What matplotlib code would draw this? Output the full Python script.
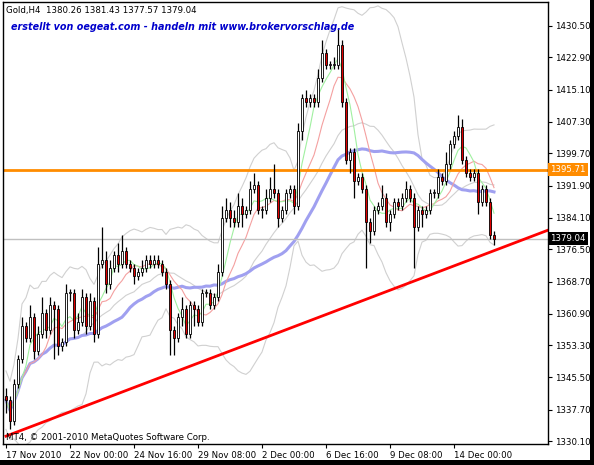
import numpy as np
import pandas as pd
import matplotlib
matplotlib.use('Agg')
import matplotlib.pyplot as plt
from matplotlib.patches import Rectangle

# Gold H4 closes (one per bar, 17 Nov - 15 Dec 2010)
closes = [1340, 1335, 1344, 1350, 1358, 1355, 1360, 1352, 1356, 1361,
          1357, 1363, 1362, 1353, 1354, 1366, 1366, 1357, 1359, 1365,
          1358, 1364, 1356, 1373, 1374, 1368, 1372, 1375, 1373, 1376,
          1373, 1372, 1370, 1371, 1372, 1374, 1373, 1374, 1373, 1371,
          1368, 1357, 1355, 1360, 1362, 1356, 1363, 1362, 1359, 1366,
          1366, 1363, 1365, 1371, 1384, 1386, 1384, 1383, 1387, 1385,
          1386, 1391, 1392, 1386, 1386, 1389, 1391, 1390, 1384, 1386,
          1390, 1391, 1387, 1405, 1413, 1412, 1413, 1412, 1418, 1424,
          1421, 1421, 1421, 1426, 1412, 1398, 1400, 1393, 1394, 1391,
          1383, 1381, 1386, 1387, 1389, 1383, 1385, 1388, 1387, 1389,
          1391, 1389, 1382, 1386, 1385, 1386, 1390, 1390, 1394, 1393,
          1397, 1402, 1404, 1406, 1398, 1395, 1394, 1395, 1388, 1391,
          1388, 1380, 1379.04]
first_open = 1341
# wick lengths above body top / below body bottom
wick_up = [2, 1, 1, 1, 2, 1, 3, 1, 2, 4, 1, 2, 1, 1, 1, 2, 1, 1, 2, 2,
           1, 2, 1, 4, 8, 2, 2, 1, 3, 4, 1, 1, 1, 1, 2, 1, 1, 1, 1, 1,
           1, 1, 1, 1, 3, 1, 1, 1, 1, 1, 1, 1, 1, 2, 3, 3, 2, 2, 3, 2,
           1, 2, 3, 1, 1, 2, 3, 6, 1, 1, 1, 1, 1, 2, 1, 2, 1, 1, 2, 3,
           1, 1, 2, 4, 1, 1, 1, 1, 1, 1, 1, 1, 1, 1, 3, 1, 1, 1, 1, 1,
           2, 1, 1, 1, 1, 1, 1, 1, 2, 1, 3, 1, 1, 3, 2, 1, 1, 1, 1, 1,
           1, 1, 1]
wick_dn = [3, 2, 1, 1, 1, 1, 1, 2, 1, 1, 2, 1, 12, 2, 1, 1, 2, 2, 1, 1,
           2, 1, 2, 1, 1, 2, 1, 1, 2, 1, 1, 1, 2, 1, 1, 1, 1, 1, 1, 1,
           1, 6, 4, 1, 2, 1, 1, 4, 1, 1, 1, 1, 1, 1, 1, 1, 2, 1, 1, 3,
           1, 1, 1, 1, 2, 1, 1, 1, 2, 1, 1, 1, 2, 1, 2, 1, 1, 1, 1, 1,
           1, 1, 1, 1, 1, 1, 3, 4, 1, 1, 11, 3, 1, 1, 1, 1, 2, 1, 1, 1,
           1, 1, 10, 1, 3, 1, 1, 1, 1, 1, 1, 1, 1, 1, 1, 1, 1, 1, 3, 1,
           1, 1, 1.5]

tick_bars = [0, 16, 32, 48, 64, 80, 96, 112]
tick_texts = ['17 Nov 2010', '22 Nov 00:00', '24 Nov 16:00', '29 Nov 08:00',
              '2 Dec 00:00', '6 Dec 16:00', '9 Dec 08:00', '14 Dec 00:00']
price_ticks = [1430.50, 1422.90, 1415.10, 1407.30, 1399.70, 1391.90, 1384.10,
               1376.50, 1368.70, 1360.90, 1353.30, 1345.50, 1337.70, 1330.10]
resistance = 1395.71
last_price = 1379.04
trend_x = [0, 136]
trend_y = [1331.3, 1381.3]

YMIN, YMAX = 1329.4, 1436.3
FS = 6.2

c = pd.Series(closes, dtype=float)
o = pd.Series([first_open] + closes[:-1], dtype=float)
hi = np.maximum(o, c) + np.array(wick_up)
lo = np.minimum(o, c) - np.array(wick_dn)
x = np.arange(len(c))

fig = plt.figure(figsize=(5.94, 4.65), dpi=100, facecolor='white')
# black frame strip at the bottom and right like the MT4 window
fig.patches.append(Rectangle((0, 0), 1, 5 / 465, transform=fig.transFigure,
                             facecolor='black', edgecolor='none'))
fig.patches.append(Rectangle((590 / 594, 0), 4 / 594, 1, transform=fig.transFigure,
                             facecolor='black', edgecolor='none'))
ax = fig.add_axes([3 / 594, 1 - 444 / 465, 545 / 594, 442 / 465])
ax.set_xlim(-0.75, 135.5)
ax.set_ylim(YMIN, YMAX)

# indicators
mid = c.rolling(20, min_periods=1).mean()
sd = c.rolling(20, min_periods=2).std().bfill()
ax.plot(x, mid + 2 * sd, color='#d0d0d0', lw=0.8)
ax.plot(x, mid - 2 * sd, color='#d0d0d0', lw=0.8)
ax.plot(x, mid, color='#d0d0d0', lw=0.8)
ax.plot(x, c.rolling(30, min_periods=1).mean(), color='#a0a0f0', lw=2.2)
ax.plot(x, c.rolling(10, min_periods=1).mean(), color='#f4a0a0', lw=0.8)
ax.plot(x, c.rolling(5, min_periods=1).mean(), color='#a0f0a0', lw=0.8)

ax.axhline(last_price, color='#c0c0c0', lw=1)
ax.axhline(resistance, color='#ff8c00', lw=2)
ax.plot(trend_x, trend_y, color='#ff0000', lw=2)

# candles
for i in range(len(c)):
    ax.vlines(x[i], lo[i], hi[i], color='black', lw=0.9)
    bottom = min(o[i], c[i])
    h = max(abs(c[i] - o[i]), 0.25)
    face = 'white' if c[i] >= o[i] else '#e00000'
    ax.add_patch(Rectangle((x[i] - 0.35, bottom), 0.7, h, facecolor=face,
                           edgecolor='black', lw=0.6, zorder=3))

ax.yaxis.tick_right()
ax.set_yticks(price_ticks)
ax.set_yticklabels([f'{p:.2f}' for p in price_ticks], fontsize=FS)
ax.set_xticks(tick_bars)
ax.set_xticklabels(tick_texts, fontsize=FS, ha='left')
ax.tick_params(length=3, width=0.8, pad=2)
for s in ax.spines.values():
    s.set_linewidth(1)

ax.text(1.004, (resistance - YMIN) / (YMAX - YMIN), f'{resistance:.2f}',
        transform=ax.transAxes, fontsize=FS, color='white', va='center',
        bbox=dict(facecolor='#ff8c00', edgecolor='none', pad=1.5))
ax.text(1.004, (last_price - YMIN) / (YMAX - YMIN), f'{last_price:.2f}',
        transform=ax.transAxes, fontsize=FS, color='white', va='center',
        bbox=dict(facecolor='black', edgecolor='none', pad=1.5))

ax.text(0.006, 0.99, 'Gold,H4  1380.26 1381.43 1377.57 1379.04',
        transform=ax.transAxes, fontsize=FS, va='top')
ax.text(0.015, 0.955, 'erstellt von oegeat.com - handeln mit www.brokervorschlag.de',
        transform=ax.transAxes, fontsize=6.9, va='top', color='#0000cc',
        fontweight='bold', style='italic')
ax.text(0.006, 0.004, 'MT4, \u00a9 2001-2010 MetaQuotes Software Corp.',
        transform=ax.transAxes, fontsize=FS, va='bottom')

fig.savefig('out.png', dpi=100, facecolor='white')
